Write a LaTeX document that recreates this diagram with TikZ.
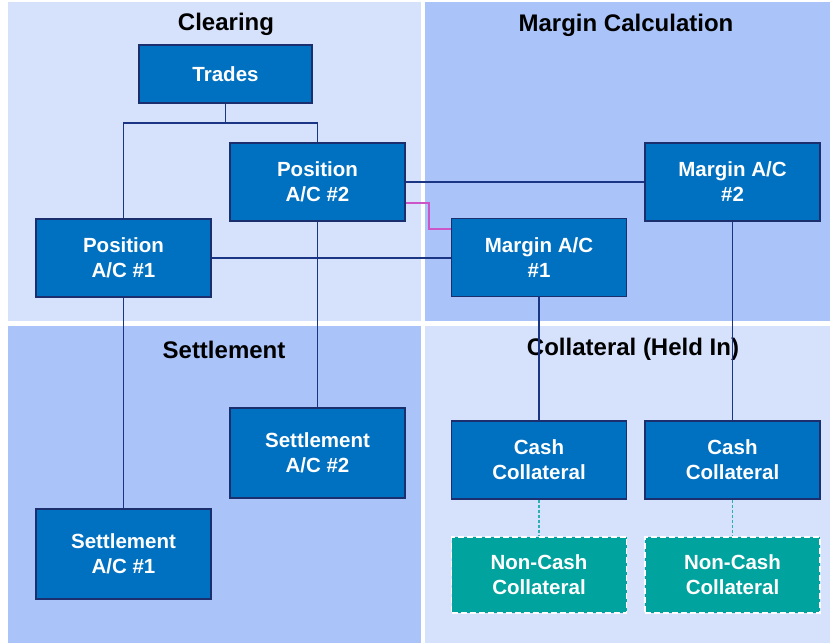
\documentclass[tikz,border=0pt]{standalone}
\usepackage{fontspec}
\setmainfont{Liberation Sans}
\definecolor{bglight}{HTML}{D6E2FB}
\definecolor{bgdark}{HTML}{AAC4FA}
\definecolor{boxblue}{HTML}{0070C0}
\definecolor{boxedge}{HTML}{1B2E6E}
\definecolor{wire}{HTML}{1B3585}
\definecolor{teal}{HTML}{00A39E}
\definecolor{tealwire}{HTML}{2AAFB3}
\definecolor{pinkwire}{HTML}{CC55C8}
\begin{document}
\begin{tikzpicture}[x=1pt,y=-1pt,
  zonetitle/.style={font=\bfseries\fontsize{24}{28}\selectfont, text=black},
  acct/.style={draw=boxedge, line width=1.2pt, fill=boxblue, text=white,
    font=\bfseries\fontsize{20.5}{25}\selectfont, align=center,
    minimum width=175pt, minimum height=78pt, inner sep=0pt},
  noncash/.style={acct, draw=white, fill=teal, line width=1.8pt,
    dash pattern=on 6pt off 3pt},
  link/.style={draw=wire, line width=1.5pt},
  softlink/.style={draw=tealwire, line width=1.4pt, dash pattern=on 3pt off 2pt},
  pinklink/.style={draw=pinkwire, line width=1.4pt}]
\useasboundingbox (0,0) rectangle (830,643);
% four quadrants
\fill[bglight] (8,2) rectangle (421,321);
\fill[bgdark] (425,2) rectangle (830,321);
\fill[bgdark] (8,326) rectangle (421,643);
\fill[bglight] (425,326) rectangle (830,643);
% quadrant titles
\node[zonetitle] (tclear) at (226,24.5) {Clearing};
\node[zonetitle] (tmargin) at (626,25.5) {Margin Calculation};
\node[zonetitle] (tsettle) at (224,349.5) {Settlement};
\node[zonetitle] (tcoll) at (633,349.5) {Collateral (Held In)};
% accounts
\node[acct, minimum width=173pt, minimum height=58pt] (trades) at (225.5,74) {Trades};
\node[acct] (pos2) at (317.5,182) {Position\\A/C \#2};
\node[acct] (pos1) at (123.5,258) {Position\\A/C \#1};
\node[acct] (m1) at (539,257.5) {Margin A/C\\\#1};
\node[acct] (m2) at (732.5,182) {Margin A/C\\\#2};
\node[acct, minimum height=90pt] (set2) at (317.5,453) {Settlement\\A/C \#2};
\node[acct, minimum height=90pt] (set1) at (123.5,554) {Settlement\\A/C \#1};
\node[acct] (cash1) at (539,460) {Cash\\Collateral};
\node[acct] (cash2) at (732.5,460) {Cash\\Collateral};
\node[noncash, minimum height=76pt] (nc1) at (539,575) {Non-Cash\\Collateral};
\node[noncash, minimum height=76pt] (nc2) at (732.5,575) {Non-Cash\\Collateral};
% connectors
\coordinate (tj) at (225.5,123);
\coordinate (pk) at (429,229);
\draw[link] (trades.south) -- (tj);
\draw[link] (pos1.north) |- (tj) -| (pos2.north);
\draw[link] (pos1.south) -- (set1.north);
\draw[link] (pos2.south) -- (set2.north);
\draw[link] (pos2.east) -- (m2.west);
\draw[link] (pos1.east) -- (pos1.east -| m1.west);
\draw[pinklink] ([yshift=-21pt]pos2.east) -| (pk) -- (pk -| m1.west);
\draw[link] (m1.south) -- (cash1.north);
\draw[link] (m2.south) -- (cash2.north);
\draw[softlink] (cash1.south) -- (nc1.north);
\draw[softlink] (cash2.south) -- (nc2.north);
\end{tikzpicture}
\end{document}
